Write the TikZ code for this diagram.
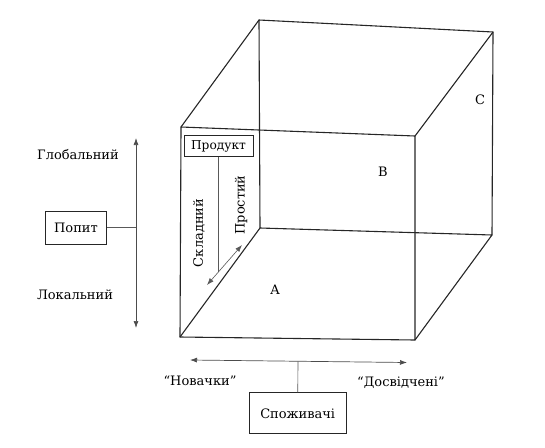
\documentclass[tikz,border=0pt]{standalone}
\usepackage{fontspec}
\setmainfont{DejaVu Serif}
\usetikzlibrary{arrows.meta,calc}
\begin{document}
\begin{tikzpicture}[x=1pt,y=-1pt,
  edge/.style={line width=1.1pt, black!85, line join=round, line cap=round},
  thinline/.style={line width=0.6pt, black!65},
  tips/.style={{Latex[length=7pt,width=5pt]}-{Latex[length=7pt,width=5pt]}},
  axis/.style={line width=0.7pt, black!70, tips},
  box/.style={draw, black!85, line width=1pt, inner sep=0pt, text=black, font=\fontsize{13}{15}\selectfont},
  lbl/.style={text=black, inner sep=0pt, font=\fontsize{13}{15}\selectfont}
]
\useasboundingbox (0,0) rectangle (545,447);
% cube vertices
\coordinate (ftl) at (181,127);
\coordinate (ftr) at (415,136);
\coordinate (fbl) at (180,337);
\coordinate (fbr) at (415,340);
\coordinate (btl) at (259,20);
\coordinate (btr) at (493,32);
\coordinate (bbl) at (260,228);
\coordinate (bbr) at (492,235);
% cube edges
\draw[edge] (ftl) -- (ftr) -- (fbr) -- (fbl) -- cycle;
\draw[edge] (btl) -- (btr) -- (bbr) -- (bbl) -- cycle;
\draw[edge] (ftl) -- (btl);
\draw[edge] (ftr) -- (btr);
\draw[edge] (fbl) -- (bbl);
\draw[edge] (fbr) -- (bbr);
% boxes
\node[box, minimum width=69pt, minimum height=21pt, font=\fontsize{12.2}{14}\selectfont] (product) at (218.5,146) {Продукт};
\node[box, minimum width=61pt, minimum height=33pt] (popyt) at (76,227.5) {Попит};
\node[box, minimum width=97pt, minimum height=41pt] (spozh) at (297.7,413.3) {Споживачі};
% product arrow
\coordinate (pA) at (242,245);
\coordinate (pB) at (207,285);
\draw[thinline, tips] (pB) -- (pA);
\path (product.south) ++(0,200) coordinate (pdown);
\coordinate (pM) at (intersection of pA--pB and product.south--pdown);
\draw[thinline] (product.south) -- (pM);
\node[lbl, rotate=90] (slad) at (199,233) {Складний};
\node[lbl, rotate=90] (prost) at (241,205) {Простий};
% demand axis
\coordinate (gtop) at (136,138);
\coordinate (gbot) at (136,328);
\draw[axis] (gbot) -- (gtop);
\coordinate (gmid) at (136,227.5);
\draw[thinline] (popyt.east) -- (gmid);
\node[lbl] (glob) at (78,155) {Глобальний};
\node[lbl] (lok) at (75,295) {Локальний};
% consumers axis
\coordinate (cl) at (190,360);
\coordinate (cr) at (407,362.5);
\draw[axis] (cl) -- (cr);
\coordinate (cmid) at ($(cl)!(spozh.north)!(cr)$);
\draw[thinline] (spozh.north) -- (cmid);
\node[lbl] (nov) at (200,381) {“Новачки”};
\node[lbl] (dosv) at (401,383) {“Досвідчені”};
% region labels
\node[lbl] (la) at (275,290) {A};
\node[lbl] (lb) at (383,172) {B};
\node[lbl] (lc) at (480,100) {C};
\end{tikzpicture}
\end{document}
